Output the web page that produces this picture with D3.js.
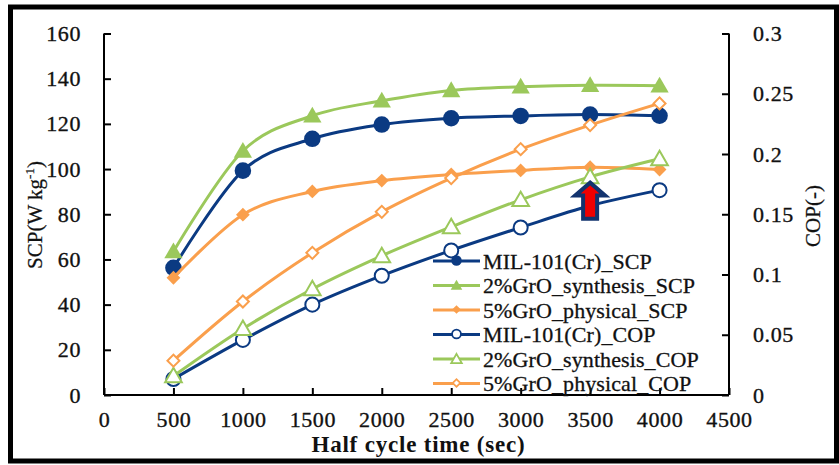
<!DOCTYPE html>
<html>
<head>
<meta charset="utf-8">
<script src="https://cdn.jsdelivr.net/npm/d3@7"></script>
<style>
  html, body { margin: 0; padding: 0; background: #fff; }
  svg text { font-family: "Liberation Serif", "DejaVu Serif", serif; fill: #111; }
</style>
</head>
<body>
<div id="chart"></div>
<script>
(function() {
// Half cycle time (sec)
var cycleTimes = [500, 1000, 1500, 2000, 2500, 3000, 3500, 4000];

// SCP (W kg-1), left axis
var milScp = [56.3, 99.3, 113.4, 119.7, 122.5, 123.5, 124.1, 123.6];
var groSynthScp = [63.5, 108, 123.6, 130.2, 134.8, 136.4, 137.1, 136.9];
var groPhysScp = [51.9, 79.8, 90.1, 94.9, 97.6, 99.4, 100.8, 99.8];

// COP (-), right axis
var milCop = [0.0133, 0.0457, 0.075, 0.099, 0.120, 0.139, 0.157, 0.170];
var groSynthCop = [0.0158, 0.055, 0.088, 0.1155, 0.1395, 0.162, 0.181, 0.196];
var groPhysCop = [0.0285, 0.0776, 0.118, 0.152, 0.180, 0.204, 0.224, 0.242];

var xTicks = [0, 500, 1000, 1500, 2000, 2500, 3000, 3500, 4000, 4500];
var scpTicks = [0, 20, 40, 60, 80, 100, 120, 140, 160];
var copTicks = [0, 0.05, 0.1, 0.15, 0.2, 0.25, 0.3];
var copTickLabels = ['0', '0.05', '0.1', '0.15', '0.2', '0.25', '0.3'];

var seriesNames = ['MIL-101(Cr)_SCP', '2%GrO_synthesis_SCP', '5%GrO_physical_SCP',
    'MIL-101(Cr)_COP', '2%GrO_synthesis_COP', '5%GrO_physical_COP'];

// arrow annotation, from -> to in (time, SCP)
var arrowTime = 3500;
var arrowFrom = 78, arrowTo = 94;

var NAVY = '#0b3a82', GREEN = '#9bc85b', ORANGE = '#fa9f4c';

var width = 839, height = 465;
var plot = {left: 104, right: 729, top: 33.5, bottom: 395};

var svg = d3.select('#chart').append('svg')
    .attr('width', width)
    .attr('height', height);

// outer frame
svg.append('rect')
    .attr('x', 10.5).attr('y', 7)
    .attr('width', 826).attr('height', 454)
    .attr('fill', 'none')
    .attr('stroke', '#000')
    .attr('stroke-width', 5);

var x = d3.scaleLinear().domain([0, 4500]).range([plot.left, plot.right]);
var yL = d3.scaleLinear().domain([0, 160]).range([plot.bottom, plot.top]);
var yR = d3.scaleLinear().domain([0, 0.3]).range([plot.bottom, plot.top]);

// axes (ticks point inward)
var gx = svg.append('g')
    .attr('transform', 'translate(0,' + plot.bottom + ')')
    .call(d3.axisBottom(x).tickValues(xTicks).tickSize(-7).tickPadding(16)
        .tickFormat(d3.format('d')));
var gl = svg.append('g')
    .attr('transform', 'translate(' + plot.left + ',0)')
    .call(d3.axisLeft(yL).tickValues(scpTicks).tickSize(-7).tickPadding(23));
var gr = svg.append('g')
    .attr('transform', 'translate(' + plot.right + ',0)')
    .call(d3.axisRight(yR).tickValues(copTicks).tickSize(-7).tickPadding(24)
        .tickFormat(function(d, i) { return copTickLabels[i]; }));

[gx, gl, gr].forEach(function(g) {
  g.select('.domain').attr('stroke', '#000').attr('stroke-width', 2);
  g.selectAll('.tick line').attr('stroke', '#000').attr('stroke-width', 2);
  g.selectAll('.tick text')
      .attr('font-size', 22)
      .attr('font-family', '"Liberation Serif", serif')
      .attr('letter-spacing', 0.6)
      .attr('fill', '#111')
      .attr('stroke', '#111')
      .attr('stroke-width', 0.35);
});
// axisBottom draws the domain with outer ticks; strip their stubs
gx.select('.domain').attr('d', 'M' + plot.left + ',0H' + plot.right);
gl.select('.domain').attr('d', 'M0,' + plot.top + 'V' + plot.bottom);
gr.select('.domain').attr('d', 'M0,' + plot.top + 'V' + plot.bottom);

// axis titles
svg.append('text')
    .attr('x', (plot.left + plot.right) / 2 + 2)
    .attr('y', 452)
    .attr('text-anchor', 'middle')
    .attr('font-size', 23)
    .attr('font-weight', 'bold')
    .attr('letter-spacing', 0.8)
    .text('Half cycle time (sec)');

var yTitle = svg.append('text')
    .attr('transform', 'translate(42,215) rotate(-90)')
    .attr('text-anchor', 'middle')
    .attr('font-size', 21)
    .attr('stroke', '#111')
    .attr('stroke-width', 0.25);
yTitle.append('tspan').text('SCP(W kg');
yTitle.append('tspan').attr('dy', -8).attr('font-size', 13).text('-1');
yTitle.append('tspan').attr('dy', 8).text(')');

svg.append('text')
    .attr('transform', 'translate(820,216) rotate(-90)')
    .attr('text-anchor', 'middle')
    .attr('font-size', 21)
    .attr('stroke', '#111')
    .attr('stroke-width', 0.25)
    .text('COP(-)');

// series
var series = [
  {values: milScp, y: yL, color: NAVY, shape: 'circle', open: false},
  {values: groSynthScp, y: yL, color: GREEN, shape: 'triangle', open: false},
  {values: groPhysScp, y: yL, color: ORANGE, shape: 'diamond', open: false},
  {values: milCop, y: yR, color: NAVY, shape: 'circle', open: true},
  {values: groSynthCop, y: yR, color: GREEN, shape: 'triangle', open: true},
  {values: groPhysCop, y: yR, color: ORANGE, shape: 'diamond', open: true}
];

// marker path; diamonds are squares turned 45deg (see markTransform)
function symbolPath(shape, size) {
  if (shape === 'circle') return d3.symbol(d3.symbolCircle, size)();
  if (shape === 'triangle') return d3.symbol(d3.symbolTriangle, size)();
  return d3.symbol(d3.symbolSquare, size)();
}

function markSize(s, legendScale) {
  var base = {circle: s.open ? 155 : 215, triangle: s.open ? 120 : 145,
      diamond: s.open ? 72 : 95}[s.shape];
  return base * (legendScale || 1);
}

function markTransform(s, px, py) {
  var t = 'translate(' + px + ',' + (py + (s.shape === 'triangle' ? 1.5 : 0)) + ')';
  return s.shape === 'diamond' ? t + ' rotate(45)' : t;
}

series.forEach(function(s) {
  var line = d3.line()
      .x(function(d, i) { return x(cycleTimes[i]); })
      .y(function(d) { return s.y(d); })
      .curve(d3.curveCatmullRom.alpha(0));
  var g = svg.append('g');
  g.append('path')
      .attr('d', line(s.values))
      .attr('fill', 'none')
      .attr('stroke', s.color)
      .attr('stroke-width', 3);
  var sym = symbolPath(s.shape, markSize(s));
  g.selectAll('path.mark').data(s.values)
    .enter().append('path')
      .attr('class', 'mark')
      .attr('d', sym)
      .attr('transform', function(d, i) {
        return markTransform(s, x(cycleTimes[i]), s.y(d));
      })
      .attr('fill', s.open ? '#fff' : s.color)
      .attr('stroke', s.color)
      .attr('stroke-width', s.open ? 2 : 0);
});

// legend
var legend = svg.append('g').attr('transform', 'translate(433,261)');
series.forEach(function(s, i) {
  var row = legend.append('g').attr('transform', 'translate(0,' + (i * 24.5) + ')');
  row.append('line')
      .attr('x1', 0).attr('x2', 47)
      .attr('stroke', s.color).attr('stroke-width', 3);
  row.append('path')
      .attr('d', symbolPath(s.shape, markSize(s, 0.4)))
      .attr('transform', markTransform(s, 23.5, -0.5))
      .attr('fill', s.open ? '#fff' : s.color)
      .attr('stroke', s.color)
      .attr('stroke-width', s.open ? 1.8 : 0);
  row.append('text')
      .attr('x', 50).attr('y', 7.5)
      .attr('font-size', 22)
      .attr('letter-spacing', 0.1)
      .attr('stroke', '#111')
      .attr('stroke-width', 0.3)
      .text(seriesNames[i]);
});

// red arrow annotation
var ax = x(arrowTime), ay0 = yL(arrowFrom), ay1 = yL(arrowTo);
var arrowPts = [
  [ax, ay1], [ax + 15, ay1 + 13], [ax + 7, ay1 + 13], [ax + 7, ay0],
  [ax - 7, ay0], [ax - 7, ay1 + 13], [ax - 15, ay1 + 13]
];
svg.append('path')
    .attr('d', d3.line()(arrowPts) + 'Z')
    .attr('fill', '#f00000')
    .attr('stroke', '#12336e')
    .attr('stroke-width', 4)
    .attr('stroke-linejoin', 'miter');
})();
</script>
</body>
</html>
